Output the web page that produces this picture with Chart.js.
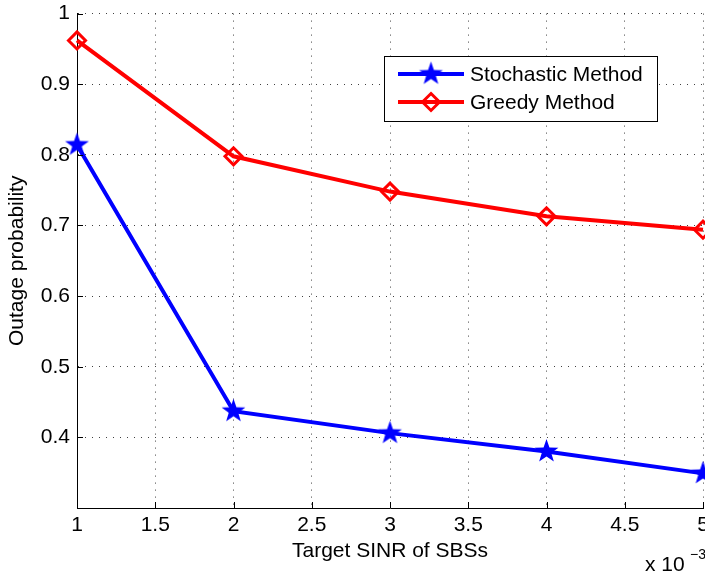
<!DOCTYPE html>
<html>
<head>
<meta charset="utf-8">
<script src="https://cdn.jsdelivr.net/npm/chart.js@4/dist/chart.umd.min.js"></script>
<style>
  html, body { margin: 0; padding: 0; background: #fff; overflow: hidden; }
  canvas { display: block; margin-top: -6px; }
</style>
</head>
<body>
<canvas id="graph" width="730" height="579"></canvas>
<script>
// valeurs
var sinrCibles = [1, 2, 3, 4, 5];
var methodeStochastique = [0.814, 0.437, 0.406, 0.380, 0.349];
var methodeGloutonne = [0.962, 0.798, 0.748, 0.713, 0.694];
var ticksX = [1, 1.5, 2, 2.5, 3, 3.5, 4, 4.5, 5];
var ticksY = [0.4, 0.5, 0.6, 0.7, 0.8, 0.9, 1];

var police = '"Liberation Sans", Arial, sans-serif';
var decalage = 6; // le canvas remonte de 6px

function etoile(rExt, rInt, couleur) {
    var c = document.createElement('canvas');
    var s = Math.ceil(rExt * 2 + 2);
    c.width = s; c.height = s;
    var g = c.getContext('2d');
    g.fillStyle = couleur;
    g.beginPath();
    for (var i = 0; i < 10; i++) {
        var r = (i % 2 === 0) ? rExt : rInt;
        var a = -Math.PI / 2 + i * Math.PI / 5;
        var px = s / 2 + r * Math.cos(a);
        var py = s / 2 + r * Math.sin(a);
        if (i === 0) g.moveTo(px, py); else g.lineTo(px, py);
    }
    g.closePath();
    g.fill();
    return c;
}
var imgEtoile = etoile(12.5, 5, '#0000ff');

function losange(ctx, x, y, r) {
    ctx.beginPath();
    ctx.moveTo(x, y - r);
    ctx.lineTo(x + r, y);
    ctx.lineTo(x, y + r);
    ctx.lineTo(x - r, y);
    ctx.closePath();
    ctx.stroke();
}

function texteTick(v) {
    return String(Math.round(v * 10) / 10);
}

var decorations = {
    id: 'decorations',
    afterDraw: function(chart) {
        var ctx = chart.ctx;
        var a = chart.chartArea;
        var sx = chart.scales.x, sy = chart.scales.y;
        ctx.save();
        // petits traits vers l'interieur
        ctx.strokeStyle = '#000';
        ctx.lineWidth = 1;
        ctx.beginPath();
        ticksX.forEach(function(v) {
            var px = Math.round(sx.getPixelForValue(v)) + 0.5;
            ctx.moveTo(px, a.bottom); ctx.lineTo(px, a.bottom - 6);
        });
        ticksY.forEach(function(v) {
            var py = Math.round(sy.getPixelForValue(v)) + 0.5;
            ctx.moveTo(a.left, py); ctx.lineTo(a.left + 6, py);
        });
        ctx.stroke();

        ctx.translate(0, decalage);
        // legende
        var lx = 384.5, ly = 56.5, lw = 273, lh = 65;
        ctx.fillStyle = '#fff';
        ctx.fillRect(lx, ly, lw, lh);
        ctx.strokeStyle = '#000';
        ctx.lineWidth = 1;
        ctx.strokeRect(lx, ly, lw, lh);

        ctx.lineWidth = 4;
        ctx.strokeStyle = '#0000ff';
        ctx.beginPath(); ctx.moveTo(398, 74); ctx.lineTo(464, 74); ctx.stroke();
        ctx.drawImage(imgEtoile, 431 - imgEtoile.width / 2, 74 - imgEtoile.height / 2);

        ctx.strokeStyle = '#ff0000';
        ctx.beginPath(); ctx.moveTo(398, 102); ctx.lineTo(464, 102); ctx.stroke();
        ctx.lineWidth = 3;
        losange(ctx, 431, 102, 8.5);

        ctx.fillStyle = '#000';
        ctx.font = '21px ' + police;
        ctx.textBaseline = 'middle';
        ctx.textAlign = 'left';
        ctx.fillText('Stochastic Method', 470, 75);
        ctx.fillText('Greedy Method', 470, 103);

        // facteur d'echelle
        ctx.textBaseline = 'alphabetic';
        ctx.fillText('x 10', 645, 571);
        ctx.font = '14px ' + police;
        ctx.fillText('\u22123', 690, 559);
        ctx.restore();
    }
};

var ctx = document.getElementById('graph').getContext('2d');
var monGraphique = new Chart(ctx, {
    type: 'line',
    data: {
        datasets: [{
            label: 'Stochastic Method',
            data: sinrCibles.map(function(x, i) { return {x: x, y: methodeStochastique[i]}; }),
            borderColor: '#0000ff',
            borderWidth: 4,
            pointStyle: imgEtoile,
            pointRadius: 12,
            clip: false
        },
        {
            label: 'Greedy Method',
            data: sinrCibles.map(function(x, i) { return {x: x, y: methodeGloutonne[i]}; }),
            borderColor: '#ff0000',
            borderWidth: 4,
            pointStyle: 'rectRot',
            pointRadius: 8.5,
            pointBorderWidth: 3,
            pointBorderColor: '#ff0000',
            pointBackgroundColor: 'rgba(0,0,0,0)',
            clip: false
        }]
    },
    options: {
        responsive: false,
        animation: false,
        layout: { padding: { top: 0, right: 27, left: 0, bottom: 0 } },
        plugins: {
            legend: { display: false },
            tooltip: { enabled: false }
        },
        scales: {
            x: {
                type: 'linear',
                min: 1,
                max: 5,
                afterBuildTicks: function(s) { s.ticks = ticksX.map(function(v) { return {value: v}; }); },
                afterFit: function(s) { s.height = 65; },
                ticks: {
                    color: '#000',
                    font: { size: 21, family: police },
                    padding: 5,
                    maxRotation: 0,
                    autoSkip: false,
                    callback: texteTick
                },
                grid: {
                    color: 'rgba(0,0,0,0.75)',
                    drawTicks: false,
                    tickLength: 0
                },
                border: { display: true, color: '#000', width: 1, dash: [1, 6] },
                title: {
                    display: true,
                    text: 'Target SINR of SBSs',
                    color: '#000',
                    font: { size: 21, family: police },
                    padding: { top: 0, bottom: 9 }
                }
            },
            y: {
                min: 0.3,
                max: 1,
                afterBuildTicks: function(s) { s.ticks = ticksY.map(function(v) { return {value: v}; }); },
                afterFit: function(s) { s.width = 77; },
                ticks: {
                    color: '#000',
                    font: { size: 21, family: police },
                    padding: 7,
                    callback: texteTick
                },
                grid: {
                    color: 'rgba(0,0,0,0.75)',
                    drawTicks: false,
                    tickLength: 0
                },
                border: { display: true, color: '#000', width: 1, dash: [1, 6] },
                title: {
                    display: true,
                    text: 'Outage probability',
                    color: '#000',
                    font: { size: 21, family: police },
                    padding: { top: 5, bottom: 0 }
                }
            }
        }
    },
    plugins: [decorations]
});
</script>
</body>
</html>
